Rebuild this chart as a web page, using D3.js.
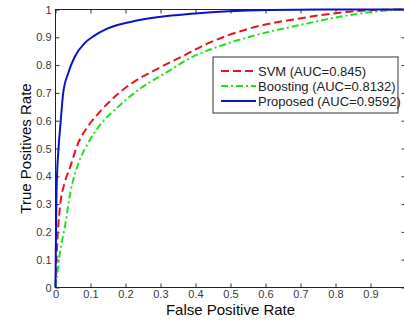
<!DOCTYPE html>
<html>
<head>
<meta charset="utf-8">
<script src="https://cdn.jsdelivr.net/npm/d3@7"></script>
<style>
  body { margin: 0; background: #fff; }
  svg text { font-family: "Liberation Sans", Arial, sans-serif; }
</style>
</head>
<body>
<div id="chart"></div>
<script>
// DATA
var svmFpr = [0, 0.002, 0.005, 0.012, 0.027, 0.041, 0.065, 0.093, 0.131, 0.169, 0.217, 0.284, 0.36, 0.43, 0.555, 0.698, 0.84, 0.907, 1.0]
var svmTpr = [0, 0.07, 0.16, 0.28, 0.38, 0.43, 0.52, 0.58, 0.638, 0.686, 0.734, 0.782, 0.83, 0.875, 0.932, 0.968, 0.992, 0.998, 1.0]

var boostFpr = [0, 0.005, 0.012, 0.027, 0.043, 0.067, 0.093, 0.131, 0.179, 0.236, 0.312, 0.40, 0.455, 0.555, 0.698, 0.84, 0.964, 1.0]
var boostTpr = [0, 0.05, 0.12, 0.22, 0.345, 0.452, 0.519, 0.59, 0.65, 0.71, 0.77, 0.835, 0.862, 0.902, 0.944, 0.98, 0.998, 1.0]

var propFpr = [0, 0.001, 0.003, 0.009, 0.015, 0.022, 0.036, 0.055, 0.084, 0.11, 0.146, 0.24, 0.40, 0.61, 0.8, 1.0]
var propTpr = [0, 0.15, 0.35, 0.506, 0.60, 0.70, 0.77, 0.83, 0.88, 0.905, 0.93, 0.962, 0.986, 0.998, 1.0, 1.0]

// the "1" on the x axis falls outside the cropped picture, so it has no label
var xTicks = [0, 0.1, 0.2, 0.3, 0.4, 0.5, 0.6, 0.7, 0.8, 0.9, 1]
var xTickLabels = ["0", "0.1", "0.2", "0.3", "0.4", "0.5", "0.6", "0.7", "0.8", "0.9", ""]
var yTicks = [0, 0.1, 0.2, 0.3, 0.4, 0.5, 0.6, 0.7, 0.8, 0.9, 1]
var yTickLabels = ["0", "0.1", "0.2", "0.3", "0.4", "0.5", "0.6", "0.7", "0.8", "0.9", "1"]

var series = [
  {label: "SVM (AUC=0.845)", color: "#e8141a", dash: "8,4", fpr: svmFpr, tpr: svmTpr},
  {label: "Boosting (AUC=0.8132)", color: "#1fe01f", dash: "7,3,2,3", fpr: boostFpr, tpr: boostTpr},
  {label: "Proposed (AUC=0.9592)", color: "#0a14c8", dash: null, fpr: propFpr, tpr: propTpr}
]

var margin = {top: 9.5, right: 0, bottom: 33.5, left: 55.5}
var width = 350
var height = 278

var svg = d3.select("#chart").append("svg")
  .attr("width", 404)
  .attr("height", 321)

var g = svg.append("g")
  .attr("transform", "translate(" + margin.left + "," + margin.top + ")")

var x = d3.scaleLinear().domain([0, 1]).range([0, width])
var y = d3.scaleLinear().domain([0, 1]).range([height, 0])

// AXES (matlab style, ticks inward)
g.append("g")
  .attr("transform", "translate(0," + height + ")")
  .call(d3.axisBottom(x).tickValues(xTicks).tickFormat((d, i) => xTickLabels[i]).tickSize(-4).tickPadding(3))
g.append("g")
  .call(d3.axisLeft(y).tickValues(yTicks).tickFormat((d, i) => yTickLabels[i]).tickSize(-4).tickPadding(4))
g.append("g")
  .call(d3.axisTop(x).tickValues(xTicks).tickFormat("").tickSize(-4))
g.append("g")
  .attr("transform", "translate(" + width + ",0)")
  .call(d3.axisRight(y).tickValues(yTicks).tickFormat("").tickSize(-4))

g.selectAll(".domain").remove()
g.selectAll(".tick line").attr("stroke", "#333")
g.selectAll(".tick text")
  .style("font-size", "11px")
  .attr("fill", "#3a3a3a")

// LINES
var line = d3.line()
  .x(d => x(d[0]))
  .y(d => y(d[1]))
  .curve(d3.curveMonotoneX)

series.forEach(function (s) {
  var pts = s.fpr.map((f, i) => [f, s.tpr[i]])
  g.append("path")
    .datum(pts)
    .attr("fill", "none")
    .attr("stroke", s.color)
    .attr("stroke-width", 2)
    .attr("stroke-dasharray", s.dash)
    .attr("d", line)
})

// BOX
g.append("rect")
  .attr("x", 0)
  .attr("y", 0)
  .attr("width", width)
  .attr("height", height)
  .attr("fill", "none")
  .attr("stroke", "#222")
  .attr("stroke-width", 1)

// AXIS TITLES
svg.append("text")
  .attr("x", margin.left + width / 2)
  .attr("y", 315)
  .attr("text-anchor", "middle")
  .style("font-size", "15px")
  .attr("fill", "#0a0a0a")
  .text("False Positive Rate")

svg.append("text")
  .attr("transform", "translate(31," + (margin.top + height / 2) + ") rotate(-90)")
  .attr("text-anchor", "middle")
  .style("font-size", "15px")
  .attr("fill", "#0a0a0a")
  .text("True Positives Rate")

// LEGEND
var legendBox = svg.append("g")
  .attr("transform", "translate(213,57)")

legendBox.append("rect")
  .attr("width", 185)
  .attr("height", 56)
  .attr("fill", "#fff")
  .attr("stroke", "#333")
  .attr("stroke-width", 1)

var legend = legendBox.selectAll(".legend")
  .data(series)
  .enter().append("g")
    .attr("class", "legend")
    .attr("transform", (d, i) => "translate(0," + (14 + i * 15) + ")")

legend.append("line")
  .attr("x1", 8)
  .attr("x2", 43)
  .attr("stroke", d => d.color)
  .attr("stroke-width", 2)
  .attr("stroke-dasharray", d => d.dash)

legend.append("text")
  .attr("x", 45)
  .attr("y", 0)
  .attr("dy", "0.35em")
  .style("font-size", "13px")
  .attr("fill", "#222")
  .text(d => d.label)
</script>
</body>
</html>
